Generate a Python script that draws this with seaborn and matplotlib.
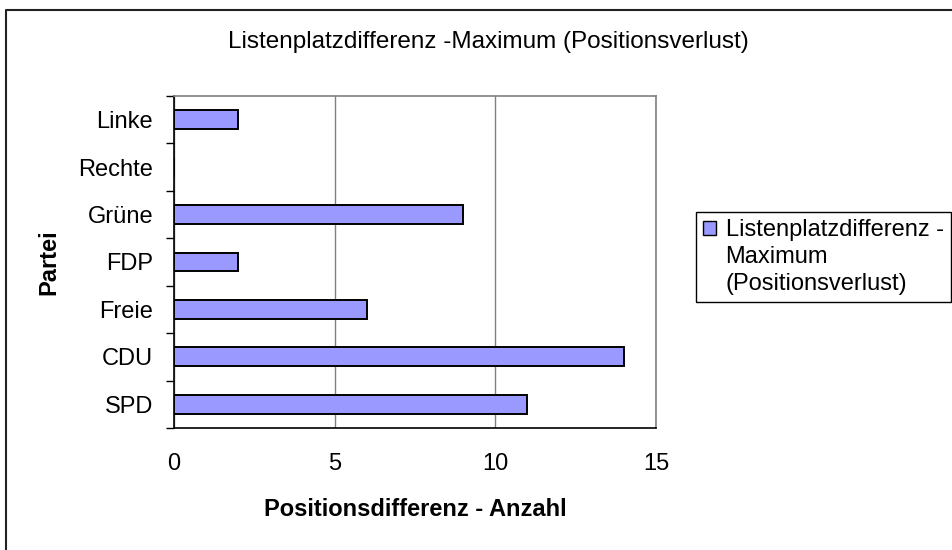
import matplotlib
matplotlib.use("Agg")
import matplotlib.pyplot as plt
import matplotlib.patches as mpatches
from matplotlib.lines import Line2D
from matplotlib.ticker import FixedLocator
import seaborn as sns
import pandas as pd

# Daten
parteien = ["Linke", "Rechte", "Grüne", "FDP", "Freie", "CDU", "SPD"]
werte = [2, 0, 9, 2, 6, 14, 11]
x_ticks = [0, 5, 10, 15]
titel = "Listenplatzdifferenz -Maximum (Positionsverlust)"
legende = ["Listenplatzdifferenz -", "Maximum", "(Positionsverlust)"]

df = pd.DataFrame({"Partei": parteien, "Anzahl": werte})

sns.set_style("white")
plt.rcParams["font.family"] = ["Liberation Sans", "DejaVu Sans"]
plt.rcParams["text.color"] = "black"
plt.rcParams["axes.labelcolor"] = "black"
plt.rcParams["xtick.color"] = "black"
plt.rcParams["ytick.color"] = "black"

fs = 17

fig = plt.figure(figsize=(9.53, 5.5), dpi=100)
ax = fig.add_axes([174 / 953, 1 - 428 / 550, 482 / 953, 332 / 550])

farbe = "#9999FF"
sns.barplot(data=df, x="Anzahl", y="Partei", order=parteien, orient="h",
            color=farbe, saturation=1, width=0.4, edgecolor="black",
            linewidth=1.4, ax=ax)

ax.set_xlim(0, 15)
ax.set_ylim(len(parteien) - 0.5, -0.5)
ax.set_xticks(x_ticks)
ax.set_xticklabels([str(t) for t in x_ticks], fontsize=fs)
ax.set_yticks(range(len(parteien)))
ax.set_yticklabels(parteien, fontsize=fs)
ax.yaxis.set_minor_locator(FixedLocator([i - 0.5 for i in range(len(parteien) + 1)]))

ax.tick_params(axis="x", which="major", direction="out", length=6, width=1,
               color="black", labelcolor="black", pad=12)
ax.tick_params(axis="y", which="major", length=0, pad=15, labelcolor="black")
ax.tick_params(axis="y", which="minor", direction="out", length=6, width=1,
               color="black", left=True)

ax.xaxis.grid(True, color="#808080", linewidth=1)
ax.set_axisbelow(True)
for s in ["top", "right"]:
    ax.spines[s].set_color("#808080")
    ax.spines[s].set_linewidth(1.2)
for s in ["left", "bottom"]:
    ax.spines[s].set_color("black")
    ax.spines[s].set_linewidth(1.2)

ax.set_xlabel("Positionsdifferenz - Anzahl", fontsize=fs, fontweight="bold")
ax.set_ylabel("Partei", fontsize=fs, fontweight="bold")
ax.xaxis.set_label_coords(0.5, (428 - 498) / 332)
ax.yaxis.set_label_coords((60 - 174) / 482, 0.5)

fig.text(488 / 953, 1 - 42 / 550, titel, fontsize=17.5, ha="center", va="center")

# Legende: erstes Element mit Kästchen, Rest als Folgezeilen
handles = [mpatches.Patch(facecolor=farbe, edgecolor="black", linewidth=1)]
handles += [mpatches.Patch(facecolor="none", edgecolor="none") for _ in legende[1:]]
leg = fig.legend(handles, legende, loc="upper left",
                 bbox_to_anchor=(696 / 953, 1 - 212 / 550),
                 bbox_transform=fig.transFigure, fontsize=fs, frameon=True,
                 fancybox=False, edgecolor="black", framealpha=1,
                 handlelength=0.55, handleheight=0.55, handletextpad=0.4,
                 borderpad=0.3, borderaxespad=0, labelspacing=0.2)
leg.get_frame().set_linewidth(1)

# Rahmen der Grafik
fig.add_artist(Line2D([6 / 953, 6 / 953, 1], [0, 1 - 10 / 550, 1 - 10 / 550],
                      color="#222222", linewidth=1.5, transform=fig.transFigure))

fig.savefig("out.png", dpi=100)
